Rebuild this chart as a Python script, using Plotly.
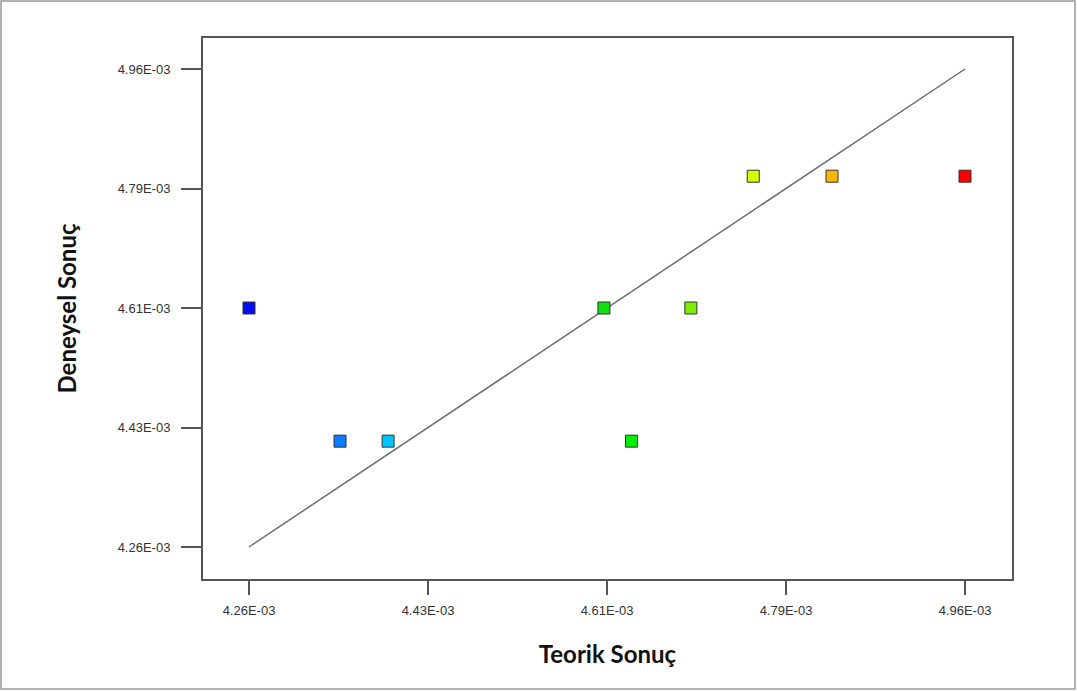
import plotly.graph_objects as go

teorik = [4.260e-3, 4.349e-3, 4.396e-3, 4.607e-3, 4.634e-3, 4.692e-3, 4.753e-3, 4.830e-3, 4.960e-3]
deneysel = [4.610e-3, 4.415e-3, 4.415e-3, 4.610e-3, 4.415e-3, 4.610e-3, 4.803e-3, 4.803e-3, 4.803e-3]
colors = ["#0010f0", "#0a7cff", "#00c4ff", "#10e010", "#00f000", "#7cf000", "#d4ff00", "#ffb400", "#ff0000"]
fit_x = [4.26e-3, 4.96e-3]
fit_y = [4.26e-3, 4.96e-3]
tick_vals = [4.26e-3, 4.435e-3, 4.61e-3, 4.785e-3, 4.96e-3]
tick_text = ["4.26E-03", "4.43E-03", "4.61E-03", "4.79E-03", "4.96E-03"]

fig = go.Figure()
fig.add_trace(go.Scatter(x=fit_x, y=fit_y, mode="lines",
                         line=dict(color="#6e6e6e", width=1.5), hoverinfo="skip"))
fig.add_trace(go.Scatter(x=teorik, y=deneysel, mode="markers",
                         marker=dict(symbol="square", size=12, color=colors,
                                     line=dict(color="#333333", width=1))))

fig.update_layout(
    width=1077, height=691,
    margin=dict(l=203, r=65, t=38, b=112),
    paper_bgcolor="white", plot_bgcolor="white",
    showlegend=False,
    font=dict(family="Liberation Sans, Arial", color="#333333"),
    xaxis=dict(range=[4.26e-3 - 46 * 0.7e-3 / 716, 4.96e-3 + 47 * 0.7e-3 / 716],
               tickvals=tick_vals, ticktext=tick_text,
               ticks="outside", ticklen=14, tickcolor="#555555", tickwidth=1.5,
               tickfont=dict(size=13, color="#333333"), ticklabelstandoff=4,
               showgrid=False, zeroline=False,
               showline=True, linecolor="#555555", linewidth=2, mirror=True,
               title=dict(text="<b>Teorik Sonuç</b>", standoff=30,
                          font=dict(family="Lato, Noto Sans", size=24, color="#111111"))),
    yaxis=dict(range=[4.26e-3 - 32 * 0.7e-3 / 478, 4.96e-3 + 31 * 0.7e-3 / 478],
               tickvals=tick_vals, ticktext=tick_text,
               ticks="outside", ticklen=20, tickcolor="#555555", tickwidth=1.5,
               tickfont=dict(size=13, color="#333333"), ticklabelstandoff=8,
               showgrid=False, zeroline=False,
               showline=True, linecolor="#555555", linewidth=2, mirror=True,
               title=dict(text="<b>Deneysel Sonuç</b>", standoff=34,
                          font=dict(family="Lato, Noto Sans", size=24, color="#111111"))),
)
fig.add_shape(type="rect", xref="paper", yref="paper",
              x0=-202 / 809, x1=1 + 63 / 809, y0=-110 / 541, y1=1 + 37 / 541,
              line=dict(color="#999999", width=1.5), layer="below")

fig.write_html("out.html", config={"displayModeBar": False},
               post_script="document.body.style.margin='0';")
